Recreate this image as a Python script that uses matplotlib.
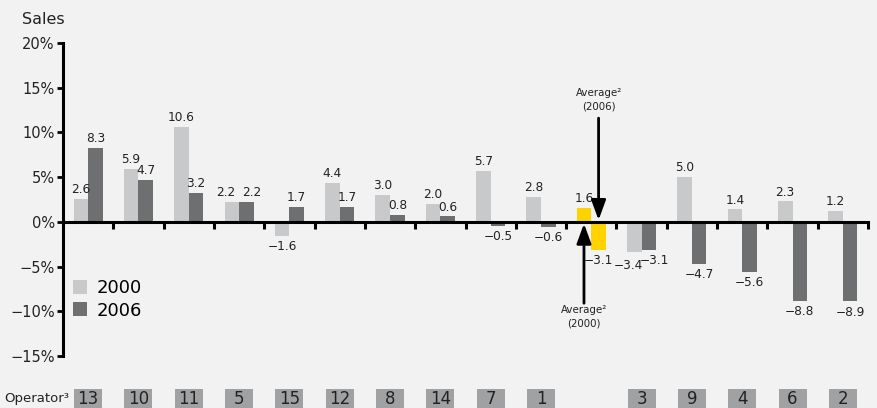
import matplotlib
matplotlib.use("Agg")
import matplotlib.pyplot as plt
from matplotlib.patches import Rectangle, Patch
import matplotlib.transforms as mtransforms

# Sales growth by operator, 2000 vs 2006
operators = ["13", "10", "11", "5", "15", "12", "8", "14", "7", "1", "", "3", "9", "4", "6", "2"]
sales_2000 = [2.6, 5.9, 10.6, 2.2, -1.6, 4.4, 3.0, 2.0, 5.7, 2.8, 1.6, -3.4, 5.0, 1.4, 2.3, 1.2]
sales_2006 = [8.3, 4.7, 3.2, 2.2, 1.7, 1.7, 0.8, 0.6, -0.5, -0.6, -3.1, -3.1, -4.7, -5.6, -8.8, -8.9]
average_index = 10
y_ticks = [-15, -10, -5, 0, 5, 10, 15, 20]
y_tick_labels = ["\u221215%", "\u221210%", "\u22125%", "0%", "5%", "10%", "15%", "20%"]
series_names = ["2000", "2006"]

BG = "#f2f2f2"
LIGHT = "#c8c9cb"
DARK = "#6e6f71"
YELLOW = "#ffd200"
BOX = "#a0a1a3"
TXT = "#222222"

plt.rcParams["font.family"] = ["DejaVu Sans"]

W, H = 877, 408
fig = plt.figure(figsize=(W / 100, H / 100), dpi=100, facecolor=BG)
ax = fig.add_axes([63 / W, (H - 356) / H, (868 - 63) / W, (356 - 43) / H])
ax.set_facecolor(BG)

n = len(operators)
bw = 0.29
x = list(range(n))

def fmt(v):
    return f"{v:.1f}".replace("-", "\u2212")

for i in x:
    v0, v1 = sales_2000[i], sales_2006[i]
    c0 = YELLOW if i == average_index else LIGHT
    c1 = YELLOW if i == average_index else DARK
    # spread the two value labels apart when they sit side by side at similar heights
    crowded = (v0 >= 0) == (v1 >= 0) and abs(v0 - v1) < 1.0
    spread = 4 if crowded else 0
    for v, other, off, col, dx in ((v0, v1, -bw / 2, c0, -spread), (v1, v0, bw / 2, c1, spread)):
        ax.bar(i + off, v, width=bw, color=col, linewidth=0, zorder=1)
        extra = 2 if crowded and abs(v) > abs(other) else 0
        ax.annotate(fmt(v), (i + off, v), xytext=(dx, 2 + extra if v >= 0 else -3 - extra),
                    textcoords="offset points", ha="center",
                    va="bottom" if v >= 0 else "top", fontsize=8.7, color=TXT)

ax.set_xlim(-0.5, n - 0.5)
ax.set_ylim(-15, 20)
ax.set_yticks(y_ticks)
ax.set_yticklabels(y_tick_labels, fontsize=10.5, color=TXT)
ax.tick_params(axis="y", direction="out", length=4, width=2, pad=2)

ax.spines["top"].set_visible(False)
ax.spines["right"].set_visible(False)
ax.spines["left"].set_linewidth(2.2)
ax.spines["bottom"].set_position(("data", 0))
ax.spines["bottom"].set_linewidth(2.2)
ax.set_xticks([b + 0.5 for b in range(n)])
ax.set_xticklabels([])
ax.tick_params(axis="x", direction="out", length=5, width=2.2)

# Average arrows
arrow = dict(arrowstyle="-|>,head_length=0.6,head_width=0.22", color="black",
             lw=2, mutation_scale=20, shrinkA=0, shrinkB=0)
ax.annotate("", xy=(average_index + bw / 2, 0.2), xytext=(average_index + bw / 2, 11.6),
            arrowprops=arrow)
ax.text(average_index + bw / 2, 12.3, "Average\u00b2\n(2006)", ha="center", va="bottom",
        fontsize=7.4, color=TXT, linespacing=1.5)
ax.annotate("", xy=(average_index - bw / 2, -0.2), xytext=(average_index - bw / 2, -9.1),
            arrowprops=arrow)
ax.text(average_index - bw / 2, -9.25, "Average\u00b2\n(2000)", ha="center", va="top",
        fontsize=7.4, color=TXT, linespacing=1.55)

# Legend
handles = [Patch(facecolor=LIGHT, edgecolor="none"), Patch(facecolor=DARK, edgecolor="none")]
fig.legend(handles, series_names, loc="upper left", bbox_to_anchor=(73 / W, 1 - 279 / H),
           frameon=False, fontsize=13, handlelength=0.8, handleheight=0.8,
           handletextpad=0.5, labelspacing=0.25, borderpad=0, borderaxespad=0)

# Axis title
fig.text(22 / W, 1 - 19 / H, "Sales", fontsize=11.5, ha="left", va="center", color=TXT)

# Operator row
trans = mtransforms.blended_transform_factory(ax.transData, fig.transFigure)
box_w = 28 / 50.3
for i, op in enumerate(operators):
    if not op:
        continue
    ax.add_patch(Rectangle((i - box_w / 2, -0.01), box_w, 0.01 + 19 / H, transform=trans,
                           facecolor=BOX, edgecolor="none", clip_on=False))
    ax.text(i, 9 / H, op, transform=trans, ha="center", va="center", fontsize=12,
            family=["Liberation Sans Narrow", "DejaVu Sans"], color=TXT, clip_on=False)
fig.text(69 / W, 9.5 / H, "Operator\u00b3", ha="right", va="center", fontsize=9.5,
         family=["Liberation Sans Narrow", "DejaVu Sans"], color=TXT)

fig.savefig("out.png", dpi=100, facecolor=BG)
